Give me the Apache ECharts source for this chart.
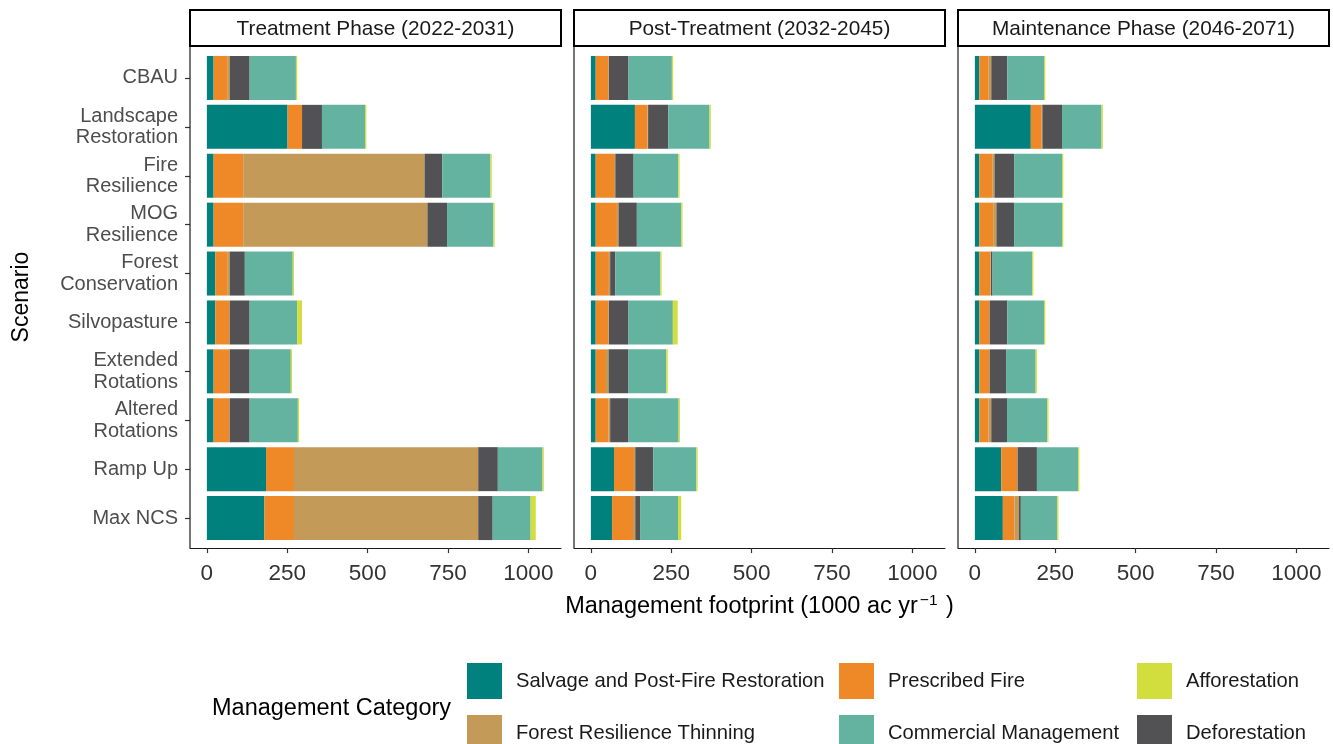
<!DOCTYPE html>
<html>
<head>
<meta charset="utf-8">
<script src="https://cdn.jsdelivr.net/npm/echarts@6/dist/echarts.min.js"></script>
<style>
html,body{margin:0;padding:0;background:#fff;}
#chart{width:1333px;height:744px;}
</style>
</head>
<body>
<div id="chart"></div>
<script>
// ---- Data ----
const scenarios = ['CBAU','Landscape\nRestoration','Fire\nResilience','MOG\nResilience','Forest\nConservation','Silvopasture','Extended\nRotations','Altered\nRotations','Ramp Up','Max NCS'];
const phases = ['Treatment Phase (2022-2031)','Post-Treatment (2032-2045)','Maintenance Phase (2046-2071)'];
const categories = ['Salvage and Post-Fire Restoration','Prescribed Fire','Forest Resilience Thinning','Deforestation','Commercial Management','Afforestation'];
const xTicks = [0,250,500,750,1000];

// Treatment Phase
const treatSalvage    = [21,251,21,21,26,26,21,21,184,179];
const treatFire       = [44,45,92,92,39,43,48,48,87,92];
const treatThinning   = [6,0,564,573,6,2,2,2,573,573];
const treatDefor      = [62,62,55,61,47,62,62,62,61,45];
const treatCommercial = [144,134,150,144,149,148,128,150,139,118];
const treatAffor      = [4,4,4,4,4,15,4,4,4,16];
// Post-Treatment
const postSalvage    = [15,137,15,15,15,15,15,15,72,66];
const postFire       = [39,39,57,66,41,39,32,40,62,65];
const postThinning   = [2,2,4,5,4,2,8,5,4,7];
const postDefor      = [61,63,57,57,16,61,62,57,56,15];
const postCommercial = [135,128,139,138,140,138,117,156,134,118];
const postAffor      = [4,4,4,4,4,15,5,4,4,10];
// Maintenance Phase
const maintSalvage    = [14,174,14,14,14,14,14,14,82,87];
const maintFire       = [29,34,40,43,34,30,30,28,49,36];
const maintThinning   = [8,2,7,10,2,2,2,9,2,14];
const maintDefor      = [50,61,61,55,5,55,51,49,60,6];
const maintCommercial = [114,123,149,149,123,114,92,125,128,113];
const maintAffor      = [4,4,4,4,4,4,4,4,4,4];

const phaseData = [
  [treatSalvage, treatFire, treatThinning, treatDefor, treatCommercial, treatAffor],
  [postSalvage, postFire, postThinning, postDefor, postCommercial, postAffor],
  [maintSalvage, maintFire, maintThinning, maintDefor, maintCommercial, maintAffor]
];
const colors = ['#00817E','#EF8826','#C49A58','#525154','#63B3A0','#D2DE3E'];

// ---- Layout ----
const FONT = '"Liberation Sans", Arial, sans-serif';
const panelLeft = [190, 574, 958];
const panelWidth = 371;
const gridTop = 53.5, gridHeight = 489;
const stripTop = 10, stripBottom = 46, panelBottom = 548;

const chart = echarts.init(document.getElementById('chart'), null, {renderer:'canvas'});

const grids = [], xAxes = [], yAxes = [], series = [], graphics = [];
for (let p = 0; p < 3; p++) {
  grids.push({left: panelLeft[p], top: gridTop, width: panelWidth, height: gridHeight, containLabel: false});
  xAxes.push({
    type: 'value', gridIndex: p, min: -52.5, max: 1101.5, offset: 5.5,
    axisLine: {show: true, onZero: false, lineStyle: {color: '#1a1a1a', width: 1.2}},
    axisTick: {show: true, length: 5, customValues: xTicks, lineStyle: {color: '#333', width: 1.2}},
    axisLabel: {show: true, customValues: xTicks, formatter: v => String(v), fontSize: 22.5, color: '#333', fontFamily: FONT, margin: 14},
    splitLine: {show: false}
  });
  yAxes.push({
    type: 'category', gridIndex: p, data: scenarios, inverse: true,
    axisLine: {show: false, onZero: false},
    axisTick: {show: p === 0, alignWithLabel: true, length: 5, lineStyle: {color: '#333', width: 1.2}},
    axisLabel: {show: p === 0, fontSize: 20, lineHeight: 21.5, color: '#4d4d4d', fontFamily: FONT, margin: 12, align: 'right'},
    splitLine: {show: false}
  });
  for (let c = 0; c < categories.length; c++) {
    series.push({
      type: 'bar', name: categories[c], stack: 'stack' + p,
      xAxisIndex: p, yAxisIndex: p, barWidth: '90%',
      data: phaseData[p][c],
      itemStyle: {color: colors[c]},
      emphasis: {disabled: true}
    });
  }
  // left panel axis line
  graphics.push({type: 'line', shape: {x1: panelLeft[p], y1: stripBottom, x2: panelLeft[p], y2: panelBottom},
    style: {stroke: '#1a1a1a', lineWidth: 1.2}, z: 10});
  // strip
  graphics.push({type: 'rect', shape: {x: panelLeft[p], y: stripTop, width: panelWidth, height: stripBottom - stripTop},
    style: {fill: '#fff', stroke: '#000', lineWidth: 2}, z: 10});
  graphics.push({type: 'text', x: panelLeft[p] + panelWidth / 2, y: (stripTop + stripBottom) / 2 + 1,
    style: {text: phases[p], fontSize: 20.8, fill: '#1a1a1a', fontFamily: FONT, align: 'center', verticalAlign: 'middle'}, z: 11});
}

// axis titles
graphics.push({type: 'text', x: (panelLeft[0] + panelLeft[2] + panelWidth) / 2, y: 607,
  style: {text: 'Management footprint (1000 ac yr{sup|\u22121} )', fontSize: 23.5, fill: '#000', fontFamily: FONT,
    align: 'center', verticalAlign: 'middle',
    rich: {sup: {fontSize: 15.5, fontFamily: FONT, fill: '#000', verticalAlign: 'top', padding: [0, 2, 12, 2]}}}});
graphics.push({type: 'text', x: 22, y: 297, rotation: Math.PI / 2,
  style: {text: 'Scenario', fontSize: 23, fill: '#000', fontFamily: FONT, align: 'center', verticalAlign: 'middle'}});
graphics.push({type: 'text', x: 212, y: 709,
  style: {text: 'Management Category', fontSize: 23.5, fill: '#000', fontFamily: FONT, align: 'left', verticalAlign: 'middle'}});

const legendBase = {orient: 'vertical', top: 663, height: 140, padding: 0, itemWidth: 35, itemHeight: 36, itemGap: 16, icon: 'rect',
  selectedMode: false, textStyle: {fontSize: 20.2, color: '#1a1a1a', fontFamily: FONT, padding: [3, 0, 0, 9]}};
const legends = [
  Object.assign({}, legendBase, {left: 467, data: [categories[0], categories[2]]}),
  Object.assign({}, legendBase, {left: 839, data: [categories[1], categories[4]]}),
  Object.assign({}, legendBase, {left: 1137, data: [categories[5], categories[3]]})
];

chart.setOption({
  animation: false,
  backgroundColor: '#fff',
  textStyle: {fontFamily: FONT},
  grid: grids, xAxis: xAxes, yAxis: yAxes, series: series,
  legend: legends,
  graphic: graphics
});
</script>
</body>
</html>
